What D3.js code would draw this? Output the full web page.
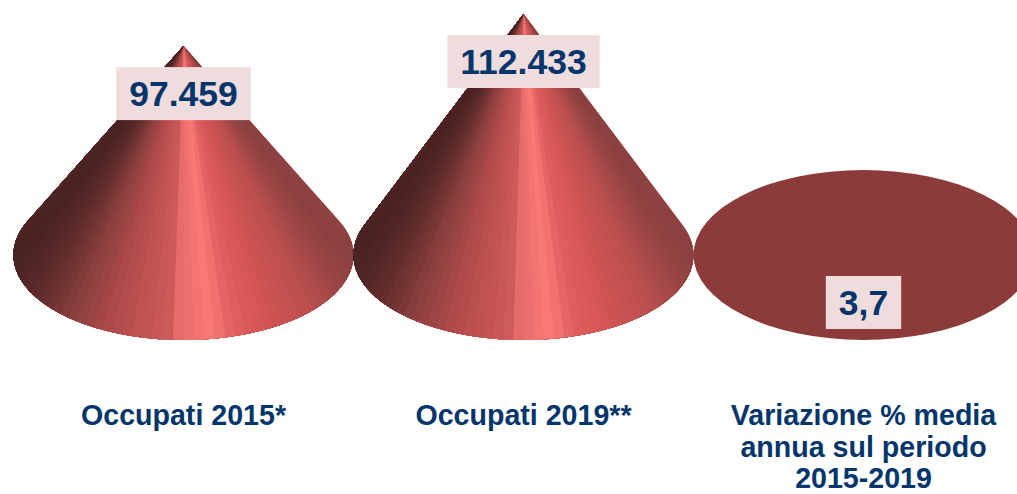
<!doctype html>
<html>
<head>
<meta charset="UTF-8">
<title>Occupati</title>
<style>
  html, body { margin: 0; padding: 0; background: #fff; overflow: hidden; }
  text { font-family: "Liberation Sans", Arial, sans-serif; font-weight: bold; fill: #04356b; text-anchor: middle; }
  .value { font-size: 35.5px; }
  .cat { font-size: 28.6px; }
</style>
<script src="https://d3js.org/d3.v7.min.js"></script>
</head>
<body>
<svg id="chart" width="1017" height="494"></svg>
<script>
// values
var categories = ["Occupati 2015*", "Occupati 2019**", "Variazione % media|annua sul periodo|2015-2019"];
var values = [97459, 112433, 3.7];
var valueLabels = ["97.459", "112.433", "3,7"];

var svg = d3.select("#chart");

var baseY = 255, rx = 170, ry = 85;

var x = d3.scaleBand().domain(categories).range([13.5, 1033.5]);
var y = d3.scaleLinear().domain([0, 112433]).range([baseY, 14]);

// shading round the cone, -1 = left edge, 1 = right edge
var shade = d3.scaleLinear()
  .domain([-1, -0.85, -0.66, -0.43, -0.08, -0.05, 0.17, 0.3, 0.5, 0.75, 1])
  .range(["#4a2222", "#622c2c", "#8a3f3f", "#b04a4a", "#cf5a5a", "#e46a6a", "#fb7a75", "#e06060", "#d25454", "#bb4f4f", "#8c4040"]);

var line = d3.line();

categories.forEach(function(c, i) {
  var cx = x(c) + x.bandwidth() / 2;
  var apexY = y(values[i]);
  var h = baseY - apexY;
  var g = svg.append("g");

  if (h <= ry) {
    // too small to stand up, only the base is seen
    g.append("ellipse")
      .attr("cx", cx).attr("cy", baseY)
      .attr("rx", rx).attr("ry", ry)
      .attr("fill", "#8d3a3a");
  } else {
    // slices from the apex down to the front of the base
    // every slice runs on to the end of the cone and the next one paints over it, so no seams
    var t = Math.asin(ry / h);
    var n = 64;
    var angles = d3.range(n + 1).map(function(k) {
      return -t + (Math.PI + 2 * t) * k / n;
    });
    d3.pairs(angles).forEach(function(a) {
      var pts = [[cx, apexY]];
      d3.range(0, 41).forEach(function(k) {
        var ang = a[0] + (Math.PI + t - a[0]) * k / 40;
        pts.push([cx + rx * Math.cos(ang), baseY + ry * Math.sin(ang)]);
      });
      g.append("path")
        .attr("d", line(pts) + "Z")
        .attr("fill", shade(Math.cos((a[0] + a[1]) / 2)));
    });
  }

  // value box
  var label = svg.append("text")
    .attr("class", "value")
    .attr("x", cx)
    .attr("y", apexY + 60)
    .text(valueLabels[i]);
  var w = label.node().getComputedTextLength();
  svg.insert("rect", "text.value:last-of-type")
    .attr("x", cx - w / 2 - 13)
    .attr("y", apexY + 21)
    .attr("width", w + 26)
    .attr("height", 53)
    .attr("fill", "#efdcdc");

  // category label
  c.split("|").forEach(function(s, j) {
    svg.append("text")
      .attr("class", "cat")
      .attr("x", cx)
      .attr("y", 425 + j * 31.5)
      .text(s);
  });
});
</script>
</body>
</html>
